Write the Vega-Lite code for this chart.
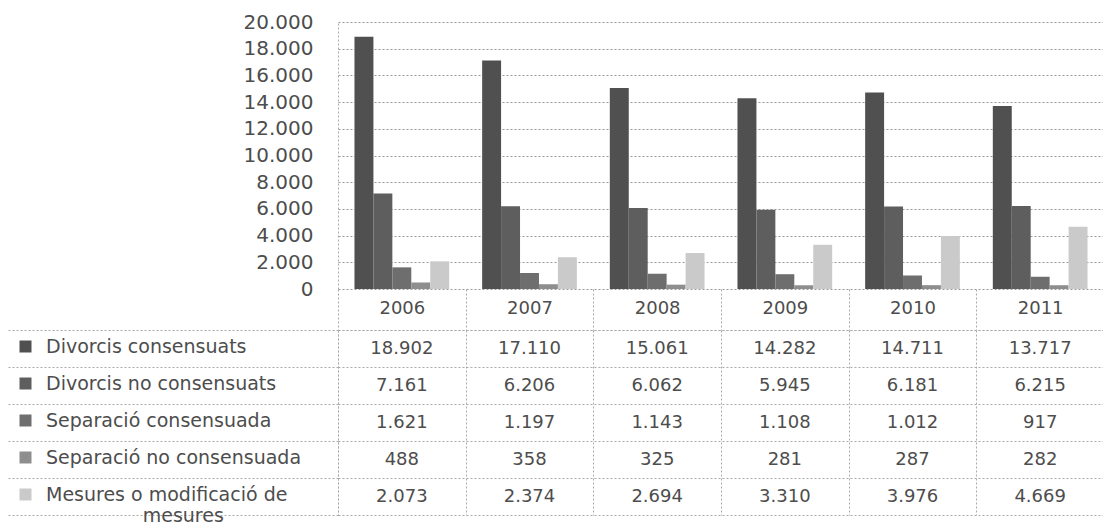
{
  "$schema": "https://vega.github.io/schema/vega-lite/v6.json",
  "padding": {"left": 7, "top": 12, "right": 0, "bottom": 0},
  "data": {"values": [
    {"year": "2006", "serie": "Divorcis consensuats", "value": 18902},
    {"year": "2007", "serie": "Divorcis consensuats", "value": 17110},
    {"year": "2008", "serie": "Divorcis consensuats", "value": 15061},
    {"year": "2009", "serie": "Divorcis consensuats", "value": 14282},
    {"year": "2010", "serie": "Divorcis consensuats", "value": 14711},
    {"year": "2011", "serie": "Divorcis consensuats", "value": 13717},
    {"year": "2006", "serie": "Divorcis no consensuats", "value": 7161},
    {"year": "2007", "serie": "Divorcis no consensuats", "value": 6206},
    {"year": "2008", "serie": "Divorcis no consensuats", "value": 6062},
    {"year": "2009", "serie": "Divorcis no consensuats", "value": 5945},
    {"year": "2010", "serie": "Divorcis no consensuats", "value": 6181},
    {"year": "2011", "serie": "Divorcis no consensuats", "value": 6215},
    {"year": "2006", "serie": "Separació consensuada", "value": 1621},
    {"year": "2007", "serie": "Separació consensuada", "value": 1197},
    {"year": "2008", "serie": "Separació consensuada", "value": 1143},
    {"year": "2009", "serie": "Separació consensuada", "value": 1108},
    {"year": "2010", "serie": "Separació consensuada", "value": 1012},
    {"year": "2011", "serie": "Separació consensuada", "value": 917},
    {"year": "2006", "serie": "Separació no consensuada", "value": 488},
    {"year": "2007", "serie": "Separació no consensuada", "value": 358},
    {"year": "2008", "serie": "Separació no consensuada", "value": 325},
    {"year": "2009", "serie": "Separació no consensuada", "value": 281},
    {"year": "2010", "serie": "Separació no consensuada", "value": 287},
    {"year": "2011", "serie": "Separació no consensuada", "value": 282},
    {"year": "2006", "serie": "Mesures o modificació de mesures", "value": 2073},
    {"year": "2007", "serie": "Mesures o modificació de mesures", "value": 2374},
    {"year": "2008", "serie": "Mesures o modificació de mesures", "value": 2694},
    {"year": "2009", "serie": "Mesures o modificació de mesures", "value": 3310},
    {"year": "2010", "serie": "Mesures o modificació de mesures", "value": 3976},
    {"year": "2011", "serie": "Mesures o modificació de mesures", "value": 4669}
  ]},
  "vconcat": [
    {
      "width": 766,
      "height": 267,
      "mark": {"type": "bar"},
      "encoding": {
        "x": {
          "field": "year", "type": "ordinal",
          "scale": {"paddingInner": 0, "paddingOuter": 0},
          "axis": {
            "title": null, "domain": false, "grid": false,
            "ticks": true, "tickBand": "extent", "tickSize": 41, "tickColor": "#aaaaaa", "tickDash": [2, 2],
            "labelAngle": 0, "labelPadding": -31, "labelFont": "DejaVu Sans", "labelFontSize": 18, "labelColor": "#4d4d4d"
          }
        },
        "xOffset": {
          "field": "serie",
          "sort": ["Divorcis consensuats", "Divorcis no consensuats", "Separació consensuada", "Separació no consensuada", "Mesures o modificació de mesures"],
          "scale": {"paddingInner": 0, "paddingOuter": 0.87}
        },
        "y": {
          "field": "value", "type": "quantitative",
          "scale": {"domain": [0, 20000]},
          "axis": {
            "title": null, "values": [0, 2000, 4000, 6000, 8000, 10000, 12000, 14000, 16000, 18000, 20000],
            "format": ",d", "ticks": false, "labelPadding": 25,
            "labelFont": "DejaVu Sans", "labelFontSize": 20, "labelColor": "#4d4d4d",
            "domain": true, "domainColor": "#aaaaaa", "domainDash": [2, 2],
            "grid": true, "gridColor": "#999999", "gridDash": [2, 2], "gridWidth": 1
          }
        },
        "color": {
          "field": "serie", "type": "nominal",
          "sort": ["Divorcis consensuats", "Divorcis no consensuats", "Separació consensuada", "Separació no consensuada", "Mesures o modificació de mesures"],
          "scale": {"range": ["#505050", "#5e5e5e", "#6e6e6e", "#8e8e8e", "#cacaca"]},
          "legend": {
            "orient": "none", "legendX": -322, "legendY": 315, "title": null,
            "symbolType": "square", "symbolSize": 144, "symbolStrokeWidth": 0,
            "labelFont": "DejaVu Sans", "labelFontSize": 19, "labelColor": "#4d4d4d",
            "labelOffset": 11, "rowPadding": 17, "labelLimit": 400,
            "labelExpr": "datum.label == 'Mesures o modificació de mesures' ? ['Mesures o modificació de', '\u200b\u2007\u2007\u2007\u2007\u2007\u2007\u2007\u2007mesures'] : datum.label"
          }
        }
      }
    },
    {
      "width": 766,
      "height": 185,
      "mark": {"type": "text", "font": "DejaVu Sans", "fontSize": 18, "color": "#4d4d4d"},
      "encoding": {
        "x": {
          "field": "year", "type": "ordinal",
          "scale": {"paddingInner": 0, "paddingOuter": 0},
          "axis": {
            "orient": "top", "title": null, "labels": false, "ticks": false,
            "domain": true, "domainColor": "#aaaaaa", "domainDash": [2, 2],
            "grid": true, "tickBand": "extent", "gridColor": "#aaaaaa", "gridDash": [2, 2]
          }
        },
        "y": {
          "field": "serie", "type": "nominal",
          "sort": ["Divorcis consensuats", "Divorcis no consensuats", "Separació consensuada", "Separació no consensuada", "Mesures o modificació de mesures"],
          "scale": {"paddingInner": 0, "paddingOuter": 0},
          "axis": {
            "title": null, "labels": false, "ticks": true, "tickBand": "extent", "tickSize": 330,
            "tickColor": "#aaaaaa", "tickDash": [2, 2],
            "domain": true, "domainColor": "#aaaaaa", "domainDash": [2, 2],
            "grid": true, "gridColor": "#aaaaaa", "gridDash": [2, 2]
          }
        },
        "text": {"field": "value", "type": "quantitative", "format": ",d"}
      }
    }
  ],
  "spacing": 41,
  "bounds": "flush",
  "config": {
    "view": {"stroke": null},
    "font": "DejaVu Sans",
    "locale": {"number": {"decimal": ",", "thousands": ".", "grouping": [3], "currency": ["", " €"]}}
  }
}
